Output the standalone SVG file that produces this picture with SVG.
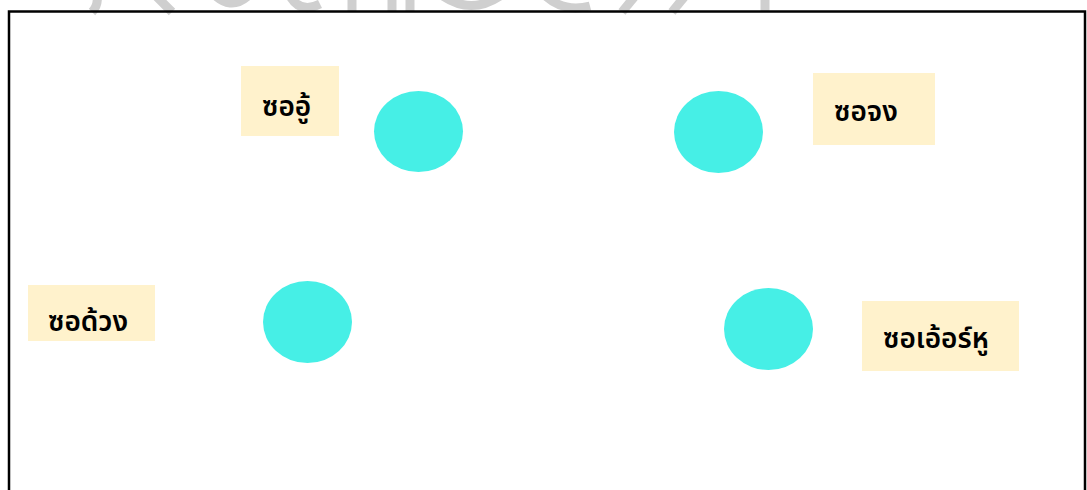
<svg xmlns="http://www.w3.org/2000/svg" width="1087" height="490" viewBox="0 0 1087 490">
<style>
.lbl{fill:#FFF2CC}
.dot{fill:#46EFE6}
.t{font-family:"Noto Sans Thai","Noto Sans","DejaVu Sans",sans-serif;font-size:28px;font-weight:600;fill:#000}
.wm{fill:none;stroke:#CFCFCF;stroke-width:9}
</style>
<rect width="1087" height="490" fill="#fff"/>
<g id="watermark">
<path class="wm" d="M96 -10 Q100 4 92 12"/>
<path class="wm" d="M150 -10 L172 12"/>
<path class="wm" d="M210 -10 Q230 14 250 -6"/>
<path class="wm" d="M290 -4 Q300 14 320 4"/>
<path class="wm" d="M352 -10 L352 12"/>
<path class="wm" d="M392 -10 L392 12 M410 -10 L410 12"/>
<path class="wm" d="M440 -6 Q470 16 500 -4"/>
<path class="wm" d="M540 -10 Q560 14 590 6"/>
<path class="wm" d="M640 -10 L622 12"/>
<path class="wm" d="M690 -10 L672 12"/>
<path class="wm" d="M765 -10 L765 12"/>
</g>
<rect x="9" y="11.5" width="1076" height="490" fill="none" stroke="#000" stroke-width="2.5"/>
<g id="connectors"></g>
<g id="label-sor-u">
<rect class="lbl" x="241" y="66" width="98" height="70"/>
<text class="t" x="262" y="116">ซออู้</text>
</g>
<g id="dot-sor-u"><ellipse class="dot" cx="418.5" cy="131.5" rx="44.5" ry="40.5"/></g>
<g id="dot-sor-jong"><ellipse class="dot" cx="718.5" cy="132" rx="44.5" ry="41"/></g>
<g id="label-sor-jong">
<rect class="lbl" x="813" y="73" width="122" height="72"/>
<text class="t" x="834" y="121">ซอจง</text>
</g>
<g id="label-sor-duang">
<rect class="lbl" x="28" y="285" width="127" height="56"/>
<text class="t" x="48" y="331">ซอด้วง</text>
</g>
<g id="dot-sor-duang"><ellipse class="dot" cx="307.5" cy="322" rx="44.5" ry="41"/></g>
<g id="dot-sor-oe-ru"><ellipse class="dot" cx="768.5" cy="329" rx="44.5" ry="41"/></g>
<g id="label-sor-oe-ru">
<rect class="lbl" x="862" y="301" width="157" height="70"/>
<text class="t" x="883" y="348">ซอเอ้อร์หู</text>
</g>
</svg>
